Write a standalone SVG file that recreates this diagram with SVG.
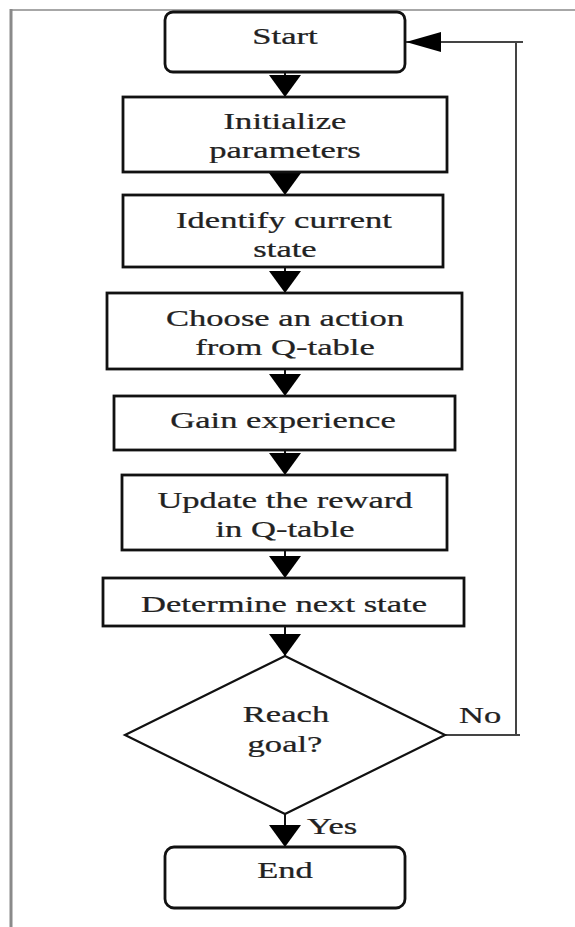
<svg xmlns="http://www.w3.org/2000/svg" width="575" height="927" viewBox="0 0 575 927">
<defs>
<style>
.box{fill:#fff;stroke:#111;stroke-width:2.8}
.dia{fill:#fff;stroke:#111;stroke-width:2.2}
.t{font-family:"Liberation Serif","Times New Roman",serif;font-size:24px;fill:#222;stroke:#222;stroke-width:0.25;text-anchor:middle}
.tl{font-family:"Liberation Serif","Times New Roman",serif;font-size:24px;fill:#222;stroke:#222;stroke-width:0.25;text-anchor:start}
.c{fill:none;stroke:#111;stroke-width:2}
.fb{fill:none;stroke:#444;stroke-width:2}
.frame{fill:none;stroke:#8a8a8a}
</style>
<marker id="ad" markerUnits="userSpaceOnUse" viewBox="0 0 22 32" markerWidth="22" markerHeight="32" refX="22" refY="16" orient="auto">
<path d="M0,0 L22,16 L0,32 Z" fill="#000"/>
</marker>
<marker id="al" markerUnits="userSpaceOnUse" viewBox="0 0 35 20" markerWidth="35" markerHeight="20" refX="35" refY="10" orient="auto">
<path d="M0,0 L35,10 L0,20 Z" fill="#000"/>
</marker>
</defs>
<rect x="0" y="0" width="575" height="927" fill="#fff"/>
<g id="frame">
<line class="frame" x1="10" y1="10" x2="575" y2="10" stroke-width="1.6"/>
<line class="frame" x1="11" y1="9" x2="11" y2="927" stroke-width="3"/>
</g>
<g id="connectors">
<line class="c" x1="285" y1="72" x2="285" y2="97" marker-end="url(#ad)"/>
<line class="c" x1="285" y1="172" x2="285" y2="195" marker-end="url(#ad)"/>
<line class="c" x1="285" y1="267" x2="285" y2="293" marker-end="url(#ad)"/>
<line class="c" x1="285" y1="369" x2="285" y2="396" marker-end="url(#ad)"/>
<line class="c" x1="285" y1="450" x2="285" y2="475" marker-end="url(#ad)"/>
<line class="c" x1="285" y1="550" x2="285" y2="578" marker-end="url(#ad)"/>
<line class="c" x1="285" y1="626" x2="285" y2="656" marker-end="url(#ad)"/>
<line class="c" x1="285" y1="814" x2="285" y2="847" marker-end="url(#ad)"/>
<path class="fb" d="M445 735 H520 M516 736 V41 M523 42 H406" marker-end="url(#al)"/>
<text class="tl" transform="translate(459 723) scale(1.44 1)">No</text>
<text class="tl" transform="translate(307 834) scale(1.44 1)">Yes</text>
</g>
<g id="start">
<rect class="box" x="165" y="12" width="240" height="60" rx="8"/>
<text class="t" transform="translate(285 44) scale(1.44 1)">Start</text>
</g>
<g id="init">
<rect class="box" x="123" y="97" width="324" height="75"/>
<text class="t" transform="translate(285 129) scale(1.44 1)">Initialize</text>
<text class="t" transform="translate(285 158) scale(1.44 1)">parameters</text>
</g>
<g id="identify">
<rect class="box" x="123" y="195" width="320" height="72"/>
<text class="t" transform="translate(284 228) scale(1.44 1)">Identify current</text>
<text class="t" transform="translate(285 257) scale(1.44 1)">state</text>
</g>
<g id="choose">
<rect class="box" x="107" y="293" width="355" height="76"/>
<text class="t" transform="translate(285 326) scale(1.44 1)">Choose an action</text>
<text class="t" transform="translate(285 355) scale(1.44 1)">from Q-table</text>
</g>
<g id="gain">
<rect class="box" x="114" y="396" width="341" height="54"/>
<text class="t" transform="translate(283 428) scale(1.44 1)">Gain experience</text>
</g>
<g id="update">
<rect class="box" x="122" y="475" width="325" height="75"/>
<text class="t" transform="translate(285 508) scale(1.44 1)">Update the reward</text>
<text class="t" transform="translate(285 537) scale(1.44 1)">in Q-table</text>
</g>
<g id="determine">
<rect class="box" x="103" y="578" width="361" height="48"/>
<text class="t" transform="translate(284 612) scale(1.44 1)">Determine next state</text>
</g>
<g id="decision">
<polygon class="dia" points="285,656 445,735 285,814 125,735"/>
<text class="t" transform="translate(286 722) scale(1.44 1)">Reach</text>
<text class="t" transform="translate(285 752) scale(1.44 1)">goal?</text>
</g>
<g id="end">
<rect class="box" x="165" y="847" width="240" height="61" rx="9"/>
<text class="t" transform="translate(285 878) scale(1.44 1)">End</text>
</g>
</svg>
